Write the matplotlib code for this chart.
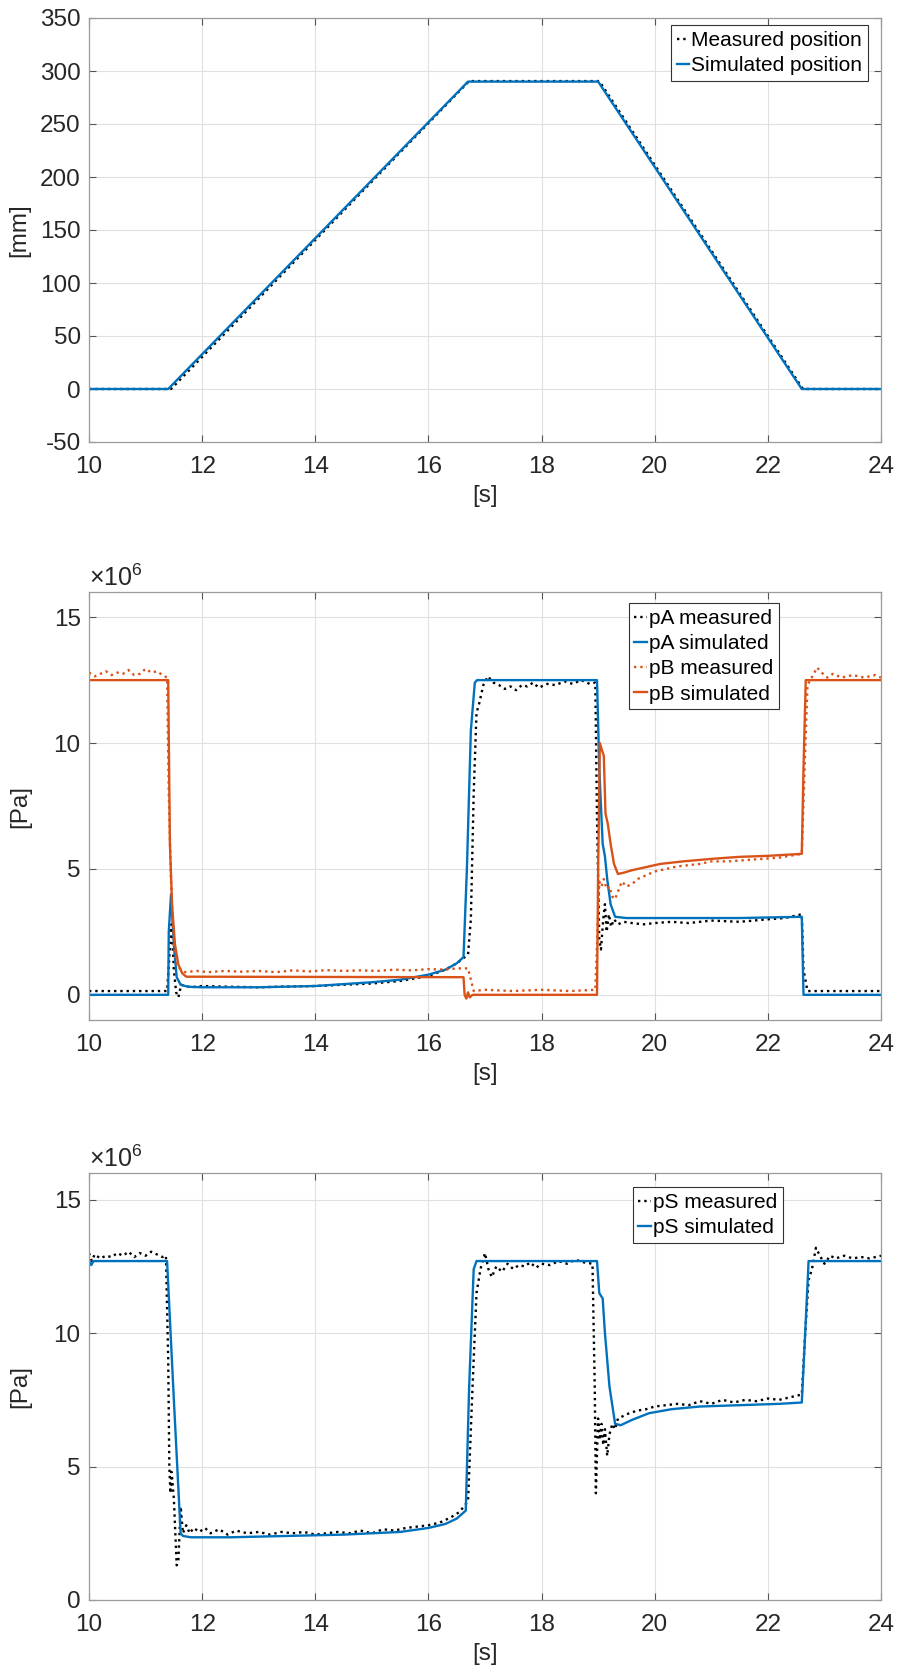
import matplotlib
matplotlib.use("Agg")
import matplotlib.pyplot as plt

plt.rcParams['font.family'] = ['Liberation Sans', 'DejaVu Sans']
plt.rcParams['mathtext.fontset'] = 'custom'
plt.rcParams['mathtext.rm'] = 'Liberation Sans'
plt.rcParams['axes.unicode_minus'] = False

# ---- position [mm] ----
pos_t_meas = [10, 11.45, 16.72, 19.02, 22.62, 24]
pos_meas = [0, 0, 290.5, 290.5, 0, 0]
pos_t_sim = [10, 11.4, 16.7, 19.0, 22.6, 24]
pos_sim = [0, 0, 290, 290, 0, 0]

# ---- chamber pressures [x1e6 Pa] ----
pA_t_sim = [10, 11.40, 11.41, 11.45, 11.50, 11.55, 11.62, 11.75, 12.0, 13.0, 14.0, 15.0, 15.5, 16.0,
            16.3, 16.5, 16.62, 16.68, 16.75, 16.82, 16.86, 18.98, 19.02, 19.08, 19.12, 19.16, 19.22,
            19.3, 19.5, 20.5, 21.5, 22.6, 22.63, 24]
pA_sim = [0, 0, 2.5, 4.0, 2.0, 0.7, 0.4, 0.32, 0.3, 0.3, 0.35, 0.5, 0.6, 0.8,
          1.0, 1.25, 1.5, 5.0, 10.5, 12.4, 12.5, 12.5, 9.0, 6.0, 5.5, 4.6, 3.6,
          3.1, 3.05, 3.05, 3.05, 3.1, 0, 0]

pA_t_meas = [10, 11.38, 11.42, 11.46, 11.5, 11.54, 11.58, 11.63, 11.7, 11.8, 12.0, 12.5, 13.0, 13.5,
             14.0, 14.5, 15.0, 15.5, 16.0, 16.3, 16.5, 16.7, 16.75, 16.8, 16.85, 16.9, 16.97, 17.05,
             17.15, 17.25, 17.35, 17.45, 17.55, 17.65, 17.75, 17.85, 17.95, 18.1, 18.25, 18.4, 18.55,
             18.7, 18.85, 18.95, 18.98, 19.02, 19.05, 19.09, 19.12, 19.15, 19.19, 19.23, 19.28, 19.35,
             19.45, 19.6, 19.8, 20.0, 20.3, 20.6, 21.0, 21.5, 22.0, 22.3, 22.6, 22.63, 22.7, 24]
pA_meas = [0.15, 0.15, 1.5, 2.8, 1.0, 0.1, -0.1, 0.4, 0.35, 0.3, 0.35, 0.32, 0.3, 0.33,
           0.35, 0.4, 0.45, 0.55, 0.75, 1.0, 1.25, 1.6, 3.0, 8.0, 11.2, 11.6, 12.3, 12.65,
           12.4, 12.3, 12.15, 12.25, 12.1, 12.3, 12.25, 12.4, 12.2, 12.35, 12.3, 12.45, 12.35,
           12.5, 12.35, 12.4, 7.0, 2.2, 1.8, 3.0, 3.6, 2.5, 3.2, 2.7, 3.0, 2.8,
           2.9, 2.85, 2.8, 2.85, 2.9, 2.85, 2.95, 2.9, 3.0, 3.05, 3.2, 1.0, 0.15, 0.15]

pB_t_sim = [10, 11.40, 11.43, 11.47, 11.52, 11.58, 11.65, 11.72, 16.62, 16.64, 16.67, 16.70, 16.73,
            16.78, 18.98, 19.0, 19.03, 19.07, 19.1, 19.13, 19.17, 19.22, 19.28, 19.35, 19.45, 19.6,
            19.8, 20.1, 20.5, 21.0, 21.5, 22.0, 22.6, 22.63, 22.67, 24]
pB_sim = [12.5, 12.5, 6.0, 3.5, 2.0, 1.2, 0.85, 0.72, 0.7, 0.0, -0.15, 0.1, -0.1,
          0.0, 0.0, 5.0, 10.0, 9.7, 9.5, 7.2, 6.8, 6.0, 5.2, 4.8, 4.85, 4.95,
          5.05, 5.2, 5.3, 5.4, 5.48, 5.52, 5.6, 9.0, 12.5, 12.5]

pB_t_meas = [10, 10.1, 10.2, 10.3, 10.4, 10.5, 10.6, 10.7, 10.8, 10.9, 11.0, 11.1, 11.2, 11.3, 11.38,
             11.41, 11.45, 11.5, 11.55, 11.6, 11.7, 11.9, 12.1, 12.4, 12.7, 13.0, 13.3, 13.6, 13.9,
             14.2, 14.5, 14.8, 15.1, 15.4, 15.7, 16.0, 16.3, 16.5, 16.7, 16.75, 16.8, 17.0, 17.5,
             18.0, 18.5, 18.95, 18.98, 19.02, 19.06, 19.1, 19.15, 19.2, 19.25, 19.3, 19.35, 19.42,
             19.5, 19.6, 19.7, 19.85, 20.0, 20.2, 20.4, 20.6, 20.8, 21.0, 21.3, 21.6, 21.9, 22.2,
             22.6, 22.65, 22.7, 22.8, 22.87, 22.95, 23.05, 23.15, 23.3, 23.5, 23.7, 23.9, 24]
pB_meas = [12.8, 12.65, 12.75, 12.85, 12.7, 12.8, 12.75, 12.9, 12.7, 12.75, 12.95, 12.8, 12.85, 12.7, 12.6,
           8.0, 4.5, 2.0, 1.2, 1.05, 0.9, 0.95, 0.9, 0.95, 0.92, 0.95, 0.9, 0.97, 0.93,
           0.98, 0.95, 0.97, 0.95, 1.0, 0.97, 1.02, 1.0, 1.05, 1.05, 0.6, 0.15, 0.2, 0.15,
           0.2, 0.15, 0.2, 2.0, 4.5, 4.3, 4.6, 4.2, 4.3, 3.9, 3.8, 4.1, 4.5,
           4.3, 4.4, 4.6, 4.75, 4.9, 5.0, 5.1, 5.15, 5.2, 5.3, 5.3, 5.35, 5.4, 5.45,
           5.6, 9.0, 12.3, 12.7, 13.0, 12.8, 12.6, 12.75, 12.6, 12.7, 12.6, 12.7, 12.6]

# ---- supply pressure [x1e6 Pa] ----
pS_t_sim = [10, 10.04, 10.08, 11.38, 11.5, 11.62, 11.66, 11.8, 12.5, 13.5, 14.5, 15.5, 16.0, 16.3,
            16.5, 16.66, 16.72, 16.8, 16.85, 18.98, 19.02, 19.08, 19.12, 19.2, 19.3, 19.4, 19.6,
            19.9, 20.3, 20.8, 21.5, 22.2, 22.6, 22.66, 22.72, 24]
pS_sim = [12.7, 12.55, 12.7, 12.7, 7.5, 2.5, 2.4, 2.35, 2.35, 2.4, 2.45, 2.55, 2.7, 2.85,
          3.05, 3.35, 8.0, 12.4, 12.7, 12.7, 11.5, 11.3, 10.0, 8.0, 6.6, 6.55, 6.75,
          7.0, 7.15, 7.25, 7.3, 7.35, 7.4, 10.0, 12.7, 12.7]

pS_t_meas = [10.0, 10.05, 10.1, 10.2, 10.3, 10.4, 10.5, 10.6, 10.7, 10.8, 10.9, 11.0, 11.1, 11.2, 11.3,
             11.36, 11.4, 11.42, 11.44, 11.46, 11.5, 11.55, 11.58, 11.62, 11.66, 11.72, 11.78, 11.85,
             11.95, 12.05, 12.15, 12.3, 12.45, 12.6, 12.8, 13.0, 13.2, 13.4, 13.6, 13.8, 14.0, 14.2,
             14.4, 14.6, 14.8, 15.0, 15.2, 15.4, 15.6, 15.8, 16.0, 16.2, 16.4, 16.55, 16.7, 16.78,
             16.85, 16.92, 17.0, 17.06, 17.12, 17.2, 17.3, 17.4, 17.5, 17.6, 17.7, 17.8, 17.9, 18.0,
             18.15, 18.3, 18.45, 18.6, 18.75, 18.9, 18.94, 18.96, 18.98, 19.0, 19.03, 19.06, 19.09,
             19.12, 19.16, 19.2, 19.25, 19.3, 19.35, 19.45, 19.55, 19.7, 19.85, 20.0, 20.2, 20.4,
             20.6, 20.8, 21.0, 21.2, 21.4, 21.6, 21.8, 22.0, 22.2, 22.4, 22.6, 22.66, 22.72, 22.78,
             22.85, 22.92, 23.0, 23.1, 23.2, 23.35, 23.5, 23.65, 23.8, 24.0]
pS_meas = [13.0, 12.7, 12.95, 12.8, 12.9, 12.85, 13.0, 12.9, 13.05, 12.85, 13.0, 12.9, 13.05, 12.95, 12.85,
           12.9, 9.0, 5.0, 4.0, 4.8, 3.8, 1.3, 1.5, 3.5, 2.5, 2.8, 2.5, 2.7,
           2.55, 2.7, 2.5, 2.65, 2.45, 2.6, 2.5, 2.55, 2.45, 2.55, 2.5, 2.55, 2.45, 2.5,
           2.55, 2.5, 2.6, 2.5, 2.65, 2.6, 2.7, 2.75, 2.8, 2.9, 3.1, 3.3, 3.7, 8.0,
           11.5, 12.4, 13.0, 12.4, 12.1, 12.5, 12.3, 12.6, 12.4, 12.55, 12.5, 12.65, 12.45, 12.6,
           12.55, 12.7, 12.6, 12.75, 12.65, 12.6, 8.0, 4.0, 5.5, 6.8, 6.0, 6.6, 5.8,
           6.4, 5.4, 6.2, 6.6, 6.4, 6.8, 6.9, 7.0, 7.1, 7.15, 7.25, 7.3, 7.35,
           7.3, 7.45, 7.35, 7.5, 7.4, 7.5, 7.45, 7.55, 7.5, 7.6, 7.7, 10.0, 12.0, 12.4,
           13.2, 12.9, 12.6, 12.9, 12.8, 12.9, 12.8, 12.85, 12.8, 12.9]

x_ticks = [10, 12, 14, 16, 18, 20, 22, 24]

blue = '#0072BD'
orange = '#D95319'
fs = 17.5

fig = plt.figure(figsize=(8.97, 16.75), dpi=100)
W, H = 897.0, 1675.0


def make_axes(top_px, bot_px):
    ax = fig.add_axes([89 / W, 1 - bot_px / H, 792 / W, (bot_px - top_px) / H])
    ax.set_xlim(10, 24)
    ax.set_xticks(x_ticks)
    ax.grid(True, color='#e0e0e0', lw=0.8)
    ax.set_axisbelow(True)
    for s in ax.spines.values():
        s.set_color('#9a9a9a')
        s.set_linewidth(0.9)
    ax.tick_params(direction='in', top=True, right=True, length=5, width=0.8,
                   color='#555555', labelsize=fs, labelcolor='#262626')
    ax.tick_params(axis='x', pad=10)
    ax.tick_params(axis='y', pad=6)
    ax.set_xlabel('[s]', fontsize=fs, color='#262626', labelpad=5)
    return ax


def add_legend(ax, rx, ty):
    leg = ax.legend(loc='upper right', bbox_to_anchor=(rx / W, 1 - ty / H),
                    bbox_transform=fig.transFigure, borderaxespad=0, fontsize=15,
                    handlelength=0.6, handletextpad=0.1, labelspacing=0.3,
                    borderpad=0.28, fancybox=False, framealpha=1)
    leg.get_frame().set_edgecolor('#333333')
    leg.get_frame().set_linewidth(0.8)


# top: position
ax1 = make_axes(18, 442)
ax1.plot(pos_t_meas, pos_meas, ':', color='black', lw=1.7, label='Measured position')
ax1.plot(pos_t_sim, pos_sim, '-', color=blue, lw=1.7, label='Simulated position')
ax1.set_ylim(-50, 350)
ax1.set_yticks(range(-50, 351, 50))
ax1.set_ylabel('[mm]', fontsize=fs, color='#262626', labelpad=7)
add_legend(ax1, 868, 25)

# middle: pA, pB
ax2 = make_axes(592, 1020)
ax2.plot(pA_t_meas, pA_meas, ':', color='black', lw=1.7, label='pA measured')
ax2.plot(pA_t_sim, pA_sim, '-', color=blue, lw=1.7, label='pA simulated')
ax2.plot(pB_t_meas, pB_meas, ':', color=orange, lw=1.7, label='pB measured')
ax2.plot(pB_t_sim, pB_sim, '-', color=orange, lw=1.7, label='pB simulated')
ax2.set_ylim(-1, 16)
ax2.set_yticks([0, 5, 10, 15])
ax2.set_ylabel('[Pa]', fontsize=fs, color='#262626', labelpad=16)
ax2.text(0, 1.003, r'$\times\mathregular{10^{6}}$', transform=ax2.transAxes,
         fontsize=18, color='#262626', va='bottom', ha='left')
add_legend(ax2, 779, 603)

# bottom: pS
ax3 = make_axes(1173, 1600)
ax3.plot(pS_t_meas, pS_meas, ':', color='black', lw=1.7, label='pS measured')
ax3.plot(pS_t_sim, pS_sim, '-', color=blue, lw=1.7, label='pS simulated')
ax3.set_ylim(0, 16)
ax3.set_yticks([0, 5, 10, 15])
ax3.set_ylabel('[Pa]', fontsize=fs, color='#262626', labelpad=16)
ax3.text(0, 1.003, r'$\times\mathregular{10^{6}}$', transform=ax3.transAxes,
         fontsize=18, color='#262626', va='bottom', ha='left')
add_legend(ax3, 783, 1187)

fig.savefig('out.png', dpi=100)
